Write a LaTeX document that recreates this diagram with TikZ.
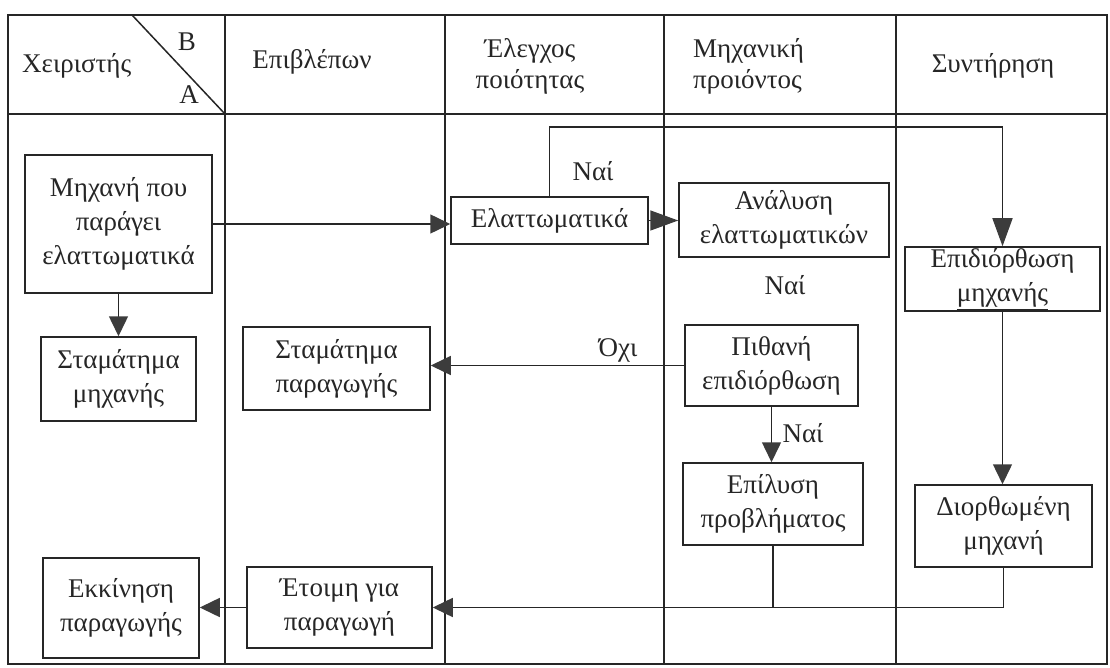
\documentclass[tikz,border=0pt]{standalone}
\usepackage{fontspec}
\setmainfont{Liberation Serif}
\usetikzlibrary{arrows.meta}
\definecolor{ink}{HTML}{262626}
\definecolor{tipfill}{HTML}{3C3C3C}
\begin{document}
\begin{tikzpicture}[x=1pt,y=-1pt,
  txt/.style={font=\fontsize{27}{34}\selectfont, text=ink, inner sep=0pt},
  hdr/.style={font=\fontsize{27}{31}\selectfont, text=ink, inner sep=0pt},
  box/.style={txt, draw=ink, line width=1.5pt, align=center},
  grid/.style={draw=ink, line width=1.5pt},
  link/.style={draw=ink, line width=1.5pt},
  arr/.style={link, -{Triangle[length=20pt,width=19pt,fill=tipfill,color=tipfill]}},
  arrlong/.style={link, -{Triangle[length=28pt,width=20pt,fill=tipfill,color=tipfill]}}]
\useasboundingbox (0,0) rectangle (1110,668);

% swimlane frame
\draw[grid] (8,15) rectangle (1107,664);
\draw[grid] (8,114) -- (1107,114);
\foreach \cx in {225,445,664,896} \draw[grid] (\cx,15) -- (\cx,664);
\draw[grid] (132,15) -- (225,114);

% lane headers
\node[hdr, anchor=west] (hop) at (22,66) {Χειριστής};
\node[hdr] (hb) at (187,42) {B};
\node[hdr] (ha) at (189,95) {A};
\node[hdr] (hsup) at (312,62) {Επιβλέπων};
\node[hdr, align=center] (hqc) at (530,66) {Έλεγχος\\ποιότητας};
\node[hdr, align=left, anchor=west] (heng) at (693,66) {Μηχανική\\προιόντος};
\node[hdr] (hmnt) at (993,66) {Συντήρηση};

% process boxes
\node[box, minimum width=187, minimum height=138] (b1) at (118.5,224) {Μηχανή που\\παράγει\\ελαττωματικά};
\node[box, minimum width=155, minimum height=84] (b2) at (118.5,379) {Σταμάτημα\\μηχανής};
\node[box, minimum width=187, minimum height=83] (b3) at (336.5,368.5) {Σταμάτημα\\παραγωγής};
\node[box, minimum width=197, minimum height=47] (b4) at (549.5,220.5) {Ελαττωματικά};
\node[box, minimum width=210, minimum height=74] (b5) at (784,220) {Ανάλυση\\ελαττωματικών};
\node[box, minimum width=173, minimum height=81] (b6) at (771.5,365.5) {Πιθανή\\επιδιόρθωση};
\node[box, minimum width=180, minimum height=82] (b7) at (773,504) {Επίλυση\\προβλήματος};
\node[box, minimum width=195, minimum height=64] (b8) at (1002.5,279) {Επιδιόρθωση\\\underline{μηχανής}};
\node[box, minimum width=177, minimum height=82] (b9) at (1003.5,526) {Διορθωμένη\\μηχανή};
\node[box, minimum width=185, minimum height=81] (b10) at (339.5,607.5) {Έτοιμη για\\παραγωγή};
\node[box, minimum width=156, minimum height=100] (b11) at (121,608) {Εκκίνηση\\παραγωγής};

% labels on the flows
\node[txt] (yes1) at (593,171) {Ναί};
\node[txt] (yes2) at (785,285) {Ναί};
\node[txt] (no1) at (618,350) {Όχι};
\node[txt] (yes3) at (803,433) {Ναί};

% flows
\coordinate (loop) at (0,127);
\draw[arr] (b1.east) -- (b1.east -| b4.west);
\draw[arr] (b1.south) -- (b1.south |- b2.north);
\draw[arrlong] (b4.east) -- (b4.east -| b5.west);
\draw[arrlong] (b4.north) -- (b4.north |- loop) -| (b8.north);
\draw[arr] (b6.west) -- (b6.west -| b3.east);
\draw[arr] (b6.south) -- (b6.south |- b7.north);
\draw[arr] (b8.south) -- (b8.south |- b9.north);
\draw[arr] (b9.south) |- (b10.east);
\draw[link] (b7.south) -- (b7.south |- b10.east);
\draw[arr] (b10.west) -- (b10.west -| b11.east);
\end{tikzpicture}
\end{document}
